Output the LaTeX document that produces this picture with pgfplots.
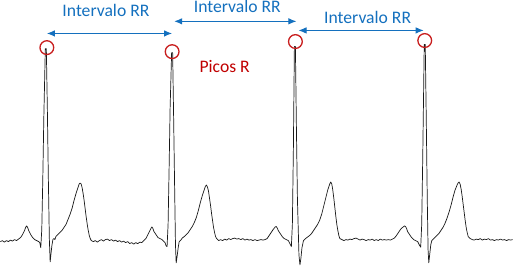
\documentclass[border=0pt]{standalone}
\usepackage{fontspec}
\setmainfont{Carlito}
\usepackage{pgfplots}
\pgfplotsset{compat=1.18}
\usetikzlibrary{arrows.meta}
\definecolor{rrblue}{RGB}{20,112,190}
\definecolor{rred}{RGB}{192,0,0}
\definecolor{cred}{RGB}{200,30,30}
\begin{document}
\begin{tikzpicture}
\begin{axis}[
  width=513bp, height=273bp, scale only axis,
  xmin=0, xmax=513, ymin=0, ymax=273, y dir=reverse,
  hide axis, clip=false,
]
\addplot[black!90, line width=0.7bp, line join=round] coordinates {
(3,242)(5,241)(7,242.5)(9,241)(11,242)(13,240.5)(15,241.5)(17,240)(19,241)(21,239.5)(23,238)(25,235)(27,231)(28,228)(29,226.5)(30,228)(31,231)(33,235)(35,238)(37,240)(39,241)(41,242)(42,243)(43,248)
(44,230)(45,180)(46,120)(47.5,51)(48.5,51)(49.5,110)(50.5,180)(51.5,240)(52.3,262)(53,255)(54,246)(55,240)(56,239)(57,240)(58,237)(60,235)(62,233)(64,231)(66,228)(68,225)(70,220)(72,215)(74,209)(76,201)(78,194)(80,188)(81,185)(82,184)(83,185)(84,189)(85,195)(86,202)(87,210)(88,218)(89,225)(90,231)(91,236)(92,239)(93,241)(95,242)(97,241)(99,242.5)(101,241)(103,240)(105,241.5)(107,240)(109,239.5)(111,241)(113,240)(115,241.5)(117,240.5)(119,242)(121,241)(123,242.5)(125,241.5)(127,243)(129,242)(131,244)(133,243)(135,244.5)(137,243)(139,244)(141,242.5)(143,243)(145,241)(147,239)(149,235)(151,231)(152,229)(153,227.5)(154,229)(155,232)(157,235)(159,238)(161,239)(163,240)(165,242)(166,243)(167,246)(168,247)
(169,225)(170,170)(171,110)(172.5,55)(173.5,55)(174.5,120)(175.5,190)(176.3,245)(177,263)(178,256)(179,248)(180,242)(181,241)(182,240)(183,238.5)(185,237)(187,235)(189,233)(191,230)(193,227)(195,223)(197,218)(199,211)(201,203)(203,196)(205,190)(206,187)(207,186)(208,188)(209,192)(210,199)(211,206)(212,214)(213,221)(214,228)(215,233)(216,237)(217,239)(219,241)(221,240)(223,241)(225,239.5)(227,240.5)(229,239)(231,240)(233,239)(235,238.5)(237,239.5)(239,239)(241,240)(243,239)(245,240.5)(247,239.5)(249,240.5)(251,240)(253,241)(255,240)(257,241)(259,240.5)(261,240)(263,240.5)(265,240)(267,239)(269,236)(271,233)(273,230)(275,227.5)(276,227)(277,228.5)(278,231)(280,234)(282,237)(284,239)(286,240)(288,241)(289,243)(290,245)(291,247)
(292,225)(293,150)(294,49)(295,49)(296,130)(297,200)(298.5,255)(299.5,265)(300.5,258)(301.5,248)(303,241)(305,239)(307,237.5)(309,236)(311,234)(313,231)(315,228)(317,225)(319,221)(321,215)(323,207)(325,199)(327,191)(329,185)(330,183)(331,185)(332,191)(333,199)(334,208)(335,217)(336,225)(337,231)(338,236)(339,239)(341,240)(343,241)(345,240)(347,240.5)(349,239.5)(351,240)(353,239)(355,238.5)(357,239.5)(359,240.5)(361,239.5)(363,240)(365,241)(367,240)(369,240.5)(371,239.5)(373,241)(375,240)(377,241)(379,239.5)(381,240.5)(383,240)(385,240.5)(387,240)(389,240.5)(391,239.5)(393,238.5)(395,236)(397,233)(399,230)(401,228)(403,226.5)(404,227)(405,229)(406,232)(408,235)(410,238)(412,240)(414,241)(416,242)(417,244)(418,246)(419,247.5)
(420,225)(421,160)(422.5,47)(423.5,47)(424.5,120)(425.5,200)(426.3,250)(427,263)(428,254)(429,245)(430,241)(431,240)(433,238)(435,236)(437,234)(439,231)(441,228)(443,224)(445,219)(447,213)(449,206)(451,198)(453,191)(455,186)(456,184)(457,183)(458,185)(459,190)(460,197)(461,205)(462,213)(463,221)(464,228)(465,233)(466,237)(468,239)(470,240)(472,240.5)(474,239.5)(476,240)(478,239)(480,240.5)(482,239.5)(484,240)(486,239)(488,240.5)(490,240)(492,241)(494,240)(496,240.5)(498,239.5)(500,240.5)(502,240)(504,241)(506,240)(508,240.5)(510,240)
};
\addplot[only marks, mark=o, mark size=6.8bp, mark options={draw=cred, line width=1.3bp}] coordinates {
(49,50)(173,54)(295,44)(423,43)
};
\draw[rrblue, line width=1bp, {Latex[length=8bp,width=6.5bp]}-{Latex[length=8bp,width=6.5bp]}] (axis cs:49,36) -- (axis cs:173,36);
\draw[rrblue, line width=1bp, {Latex[length=8bp,width=6.5bp]}-{Latex[length=8bp,width=6.5bp]}] (axis cs:175,24) -- (axis cs:296,24);
\draw[rrblue, line width=1bp, {Latex[length=8bp,width=6.5bp]}-{Latex[length=8bp,width=6.5bp]}] (axis cs:298,33) -- (axis cs:422,33);
\node[anchor=base, text=rrblue, font=\fontsize{17.5}{20}\selectfont, inner sep=0pt] at (axis cs:107.5,19.5) {Intervalo RR};
\node[anchor=base, text=rrblue, font=\fontsize{17.5}{20}\selectfont, inner sep=0pt] at (axis cs:237.5,15) {Intervalo RR};
\node[anchor=base, text=rrblue, font=\fontsize{17.5}{20}\selectfont, inner sep=0pt] at (axis cs:366.5,26) {Intervalo RR};
\node[anchor=base, text=rred, font=\fontsize{17.5}{20}\selectfont, inner sep=0pt] at (axis cs:225,75) {Picos R};
\end{axis}
\end{tikzpicture}
\end{document}
